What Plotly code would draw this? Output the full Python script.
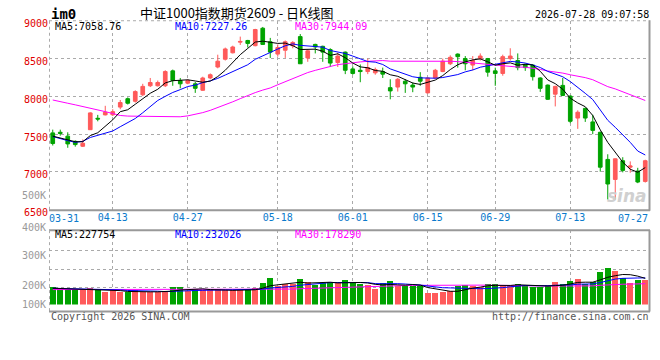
import plotly.graph_objects as go

# ---------------- data ----------------
dates = ["03-31", "04-01", "04-02", "04-03", "04-07", "04-08", "04-09", "04-10",
         "04-13", "04-14", "04-15", "04-16", "04-17", "04-20", "04-21", "04-22",
         "04-23", "04-24", "04-27", "04-28", "04-29", "04-30", "05-06", "05-07",
         "05-08", "05-11", "05-12", "05-13", "05-14", "05-15", "05-18", "05-19",
         "05-20", "05-21", "05-22", "05-25", "05-26", "05-27", "05-28", "05-29",
         "06-01", "06-02", "06-03", "06-04", "06-05", "06-08", "06-09", "06-10",
         "06-11", "06-12", "06-15", "06-16", "06-17", "06-18", "06-22", "06-23",
         "06-24", "06-25", "06-26", "06-29", "06-30", "07-01", "07-02", "07-03",
         "07-06", "07-07", "07-08", "07-09", "07-10", "07-13", "07-14", "07-15",
         "07-16", "07-17", "07-20", "07-21", "07-22", "07-23", "07-24", "07-27"]

open_ = [7517, 7525, 7474, 7405, 7340, 7559, 7710, 7755, 7756, 7858,
         7969, 7935, 8021, 8140, 8140, 8140, 8337, 8209, 8174, 8166,
         8080, 8243, 8388, 8491, 8576, 8717, 8739, 8670, 8901, 8722,
         8559, 8610, 8670, 8790, 8508, 8687, 8662, 8619, 8448, 8585,
         8363, 8345, 8328, 8311, 8328, 8115, 8123, 8200, 8149, 8252,
         8046, 8243, 8328, 8431, 8559, 8499, 8414, 8499, 8499, 8337,
         8303, 8499, 8474, 8422, 8414, 8243, 8149, 8029, 8145, 8004,
         7713, 7841, 7662, 7525, 7166, 6901, 7149, 7063, 7012, 6875]
high = [7560, 7560, 7525, 7418, 7430, 7790, 7755, 7875, 7830, 7952,
        7986, 8080, 8166, 8243, 8209, 8345, 8354, 8243, 8226, 8192,
        8260, 8303, 8551, 8645, 8670, 8790, 8747, 8893, 8918, 8773,
        8687, 8739, 8730, 8824, 8619, 8696, 8670, 8636, 8576, 8593,
        8397, 8422, 8499, 8380, 8380, 8226, 8243, 8226, 8183, 8320,
        8252, 8363, 8499, 8542, 8568, 8533, 8533, 8568, 8508, 8380,
        8551, 8636, 8568, 8431, 8422, 8252, 8157, 8140, 8243, 8012,
        7815, 7850, 7756, 7533, 7234, 7178, 7195, 7140, 7055, 7162]
low = [7350, 7480, 7320, 7335, 7330, 7555, 7670, 7748, 7740, 7830,
       7892, 7918, 8004, 8123, 8130, 8123, 8140, 8106, 8160, 8046,
       8072, 8226, 8371, 8474, 8568, 8680, 8645, 8662, 8680, 8508,
       8525, 8508, 8636, 8430, 8457, 8568, 8457, 8388, 8388, 8294,
       8286, 8187, 8294, 8286, 8243, 7961, 8063, 8046, 8055, 8140,
       8040, 8235, 8320, 8414, 8380, 8345, 8345, 8474, 8260, 8140,
       8273, 8474, 8345, 8337, 8209, 8059, 7952, 7867, 8004, 7645,
       7570, 7662, 7500, 7004, 6636, 6636, 6995, 6990, 6852, 6860]
close = [7376, 7510, 7371, 7362, 7380, 7781, 7700, 7790, 7798, 7918,
         7909, 8063, 8132, 8183, 8183, 8328, 8209, 8166, 8209, 8106,
         8243, 8286, 8465, 8627, 8653, 8726, 8700, 8884, 8687, 8585,
         8645, 8722, 8713, 8431, 8602, 8653, 8585, 8440, 8533, 8345,
         8303, 8328, 8380, 8354, 8294, 8072, 8226, 8166, 8123, 8200,
         8243, 8345, 8465, 8516, 8525, 8431, 8474, 8533, 8320, 8303,
         8525, 8533, 8380, 8380, 8260, 8106, 7961, 8132, 8012, 7670,
         7790, 7713, 7550, 7063, 6841, 7174, 7021, 7080, 6867, 7149]

volume = [155000, 131000, 131000, 131000, 123000, 144000, 123000, 109000, 128000, 109000,
          109000, 128000, 109000, 109000, 109000, 109000, 155000, 155000, 117000, 136000,
          123000, 123000, 133000, 123000, 123000, 123000, 131000, 147000, 187000, 227000,
          160000, 176000, 176000, 220000, 192000, 171000, 184000, 192000, 192000, 208000,
          181000, 176000, 171000, 136000, 184000, 200000, 160000, 160000, 160000, 160000,
          99000, 99000, 107000, 120000, 160000, 168000, 160000, 149000, 176000, 176000,
          157000, 168000, 176000, 160000, 149000, 149000, 168000, 192000, 176000, 200000,
          216000, 176000, 192000, 272000, 307000, 280000, 227000, 184000, 213000, 213000]

# moving-average values before the visible window
ma5_head = [7474, 7448, 7418, 7400]
ma10_head = [7469, 7439, 7414, 7392, 7405, 7456, 7482, 7516, 7542]
ma30_head = [7952, 7935, 7909, 7888, 7867, 7845, 7824, 7798, 7773, 7747,
             7739, 7739, 7739, 7734, 7730, 7730, 7730, 7730, 7742, 7760,
             7785, 7815, 7850, 7888, 7928, 7970, 8012, 8050, 8083]
vma5_head = [142000, 140000, 137000, 135000]
vma10_head = [142000, 141000, 141000, 140000, 138000, 137000, 135000, 132000, 130000]
vma30_head = [131000, 131000, 131000, 130000, 130000, 130000, 130000, 129000, 129000, 129000,
              129000, 129000, 129000, 129000, 129000, 129000, 130000, 130000, 130000, 130000,
              130000, 130000, 130000, 130000, 130000, 130000, 130000, 131000, 131000]

date_ticks = ["04-13", "04-27", "05-18", "06-01", "06-15", "06-29", "07-13"]
price_ticks = [6500, 7000, 7500, 8000, 8500, 9000]
vol_grid = [150000, 300000, 450000]
vol_labels = ["500K", "400K", "300K", "200K", "100K"]

ma_text = ["MA5:7058.76", "MA10:7227.26", "MA30:7944.09"]
vma_text = ["MA5:227754", "MA10:232026", "MA30:178290"]


def moving_avg(vals, n, head):
    out = list(head)
    for i in range(len(head), len(vals)):
        out.append(sum(vals[i - n + 1:i + 1]) / n)
    return out


ma5 = moving_avg(close, 5, ma5_head)
ma10 = moving_avg(close, 10, ma10_head)
ma30 = moving_avg(close, 30, ma30_head)
vma5 = moving_avg(volume, 5, vma5_head)
vma10 = moving_avg(volume, 10, vma10_head)
vma30 = moving_avg(volume, 30, vma30_head)

# ---------------- styling ----------------
W, H = 660, 360
RED = "#FF5A5A"
GREEN = "#00A300"
MONO = "DejaVu Sans Mono"
GRID = "#AAAAAA"


def fx(p):
    return p / W


def fy(p):
    return 1 - p / H


X0, X1 = 49, 649
P_TOP, P_BOT = 18.3, 213.3
V_TOP, V_BOT, V_BOX = 234.3, 311, 318.3

fig = go.Figure()

fig.add_trace(go.Candlestick(
    x=dates, open=open_, high=high, low=low, close=close,
    increasing=dict(line=dict(color=RED, width=1), fillcolor=RED),
    decreasing=dict(line=dict(color=GREEN, width=1), fillcolor=GREEN),
    whiskerwidth=0, xaxis="x", yaxis="y", hoverinfo="skip"))

for series, col in [(ma30, "#FF00FF"), (ma10, "#0000FF"), (ma5, "#000000")]:
    fig.add_trace(go.Scatter(x=dates, y=series, mode="lines",
                             line=dict(color=col, width=1),
                             xaxis="x", yaxis="y", hoverinfo="skip"))

bar_colors = [RED if c >= o else GREEN for o, c in zip(open_, close)]
fig.add_trace(go.Bar(x=dates, y=volume, marker=dict(color=bar_colors, line=dict(width=0)),
                     width=0.8, xaxis="x2", yaxis="y2", hoverinfo="skip"))

for series, col in [(vma30, "#FF00FF"), (vma10, "#0000FF"), (vma5, "#000000")]:
    fig.add_trace(go.Scatter(x=dates, y=series, mode="lines",
                             line=dict(color=col, width=1),
                             xaxis="x2", yaxis="y2", hoverinfo="skip"))

# volume axis: bars start at bottom edge (311px), 0.125 px per 1K
v_lo = (312 - V_BOT) / 0.125 * 1000
v_hi = (312 - V_TOP) / 0.125 * 1000

axis_common = dict(showline=False, zeroline=False, ticks="",
                   gridcolor=GRID, griddash="dot", gridwidth=1)

fig.update_layout(
    width=W, height=H,
    margin=dict(l=0, r=0, t=0, b=0),
    paper_bgcolor="white", plot_bgcolor="white",
    showlegend=False,
    bargap=0,
    xaxis=dict(domain=[fx(X0), fx(X1)], anchor="y", type="category",
               range=[-0.5, len(dates) - 0.5],
               tickmode="array", tickvals=date_ticks, ticktext=date_ticks,
               tickfont=dict(family=MONO, size=10, color="#0A7ACC"),
               rangeslider=dict(visible=False), showgrid=True, **axis_common),
    yaxis=dict(domain=[fy(P_BOT), fy(P_TOP)], anchor="x", range=[6500, 9000],
               tickmode="array", tickvals=price_ticks,
               ticktext=[str(v) for v in price_ticks],
               tickfont=dict(family=MONO, size=10, color="#E00000"),
               ticklabelshift=3,
               showgrid=True, **axis_common),
    xaxis2=dict(domain=[fx(X0), fx(X1)], anchor="y2", type="category",
                range=[-0.5, len(dates) - 0.5],
                tickmode="array", tickvals=date_ticks, showticklabels=False,
                showgrid=True, **axis_common),
    yaxis2=dict(domain=[fy(V_BOT), fy(V_TOP)], anchor="x2", range=[v_lo, v_hi],
                tickmode="array", tickvals=vol_grid, showticklabels=False,
                showgrid=True, **axis_common),
)

shapes = []


def line(x0, y0, x1, y1, color, width, dash="solid"):
    shapes.append(dict(type="line", xref="paper", yref="paper",
                       x0=fx(x0), y0=fy(y0), x1=fx(x1), y1=fy(y1),
                       line=dict(color=color, width=width, dash=dash)))


# price panel frame
line(X0, P_TOP, X1 + 0.5, P_TOP, GRID, 1, "dot")
line(X0 + 0.5, P_TOP, X0 + 0.5, P_BOT, GRID, 1, "dot")
line(X1 + 0.5, P_TOP - 0.5, X1 + 0.5, P_BOT + 1, "#999999", 2)
line(X0, P_BOT + 0.5, X1 + 1, P_BOT + 0.5, "#999999", 2)
# volume panel frame
line(X0, V_TOP, X1 + 1, V_TOP, "#999999", 2)
line(X0 + 0.5, V_TOP, X0 + 0.5, V_BOX, GRID, 1, "dot")
line(X1 + 0.5, V_TOP, X1 + 0.5, V_BOX, "#999999", 2)
line(X0, V_BOX, X1 + 1, V_BOX, "#999999", 2)
fig.update_layout(shapes=shapes)

ann = []


def text(x, y, s, color="#000000", size=10, anchor="left", family=MONO, **kw):
    ann.append(dict(xref="paper", yref="paper", x=fx(x), y=fy(y), text=s,
                    showarrow=False, xanchor=anchor, yanchor="middle", borderpad=0,
                    font=dict(family=family, size=size, color=color, **kw)))


text(50, 11, "<b>im0</b>", size=14)
text(236, 9.5, "中证1000指数期货2609 - 日K线图", size=13, anchor="center",
     family="Noto Sans CJK SC")
text(649.5, 11.5, "2026-07-28 09:07:58", size=10, anchor="right")

for s, col, x in zip(ma_text, ["#000000", "#0000FF", "#FF00FF"], [54, 174, 294]):
    text(x, 24, s, color=col)
for s, col, x in zip(vma_text, ["#000000", "#0000FF", "#FF00FF"], [54, 174, 294]):
    text(x, 238.5, s, color=col)

for s, y in zip(vol_labels, [198.5, 231.5, 260.5, 291, 311]):
    text(47, y, s, color="#999999", anchor="right")

text(50, 323, "Copyright 2026 SINA.COM", color="#555555")
text(649.5, 323, "http://finance.sina.com.cn", color="#555555", anchor="right")
text(627, 199, "sina", color="#D0D0D0", size=17, anchor="center",
     family="DejaVu Sans", style="italic", weight="bold")

# edge date labels (kept inside the panel, as in the original)
ann.append(dict(xref="paper", yref="paper", x=fx(48), y=fy(222), text=dates[0],
                showarrow=False, xanchor="left", yanchor="middle", borderpad=0,
                font=dict(family=MONO, size=10, color="#0A7ACC")))
ann.append(dict(xref="x", yref="paper", x=dates[-1], y=fy(222), text=dates[-1],
                showarrow=False, xanchor="right", yanchor="middle", xshift=4,
                borderpad=0, font=dict(family=MONO, size=10, color="#0A7ACC")))

fig.update_layout(annotations=ann)

fig.write_html("out.html")
